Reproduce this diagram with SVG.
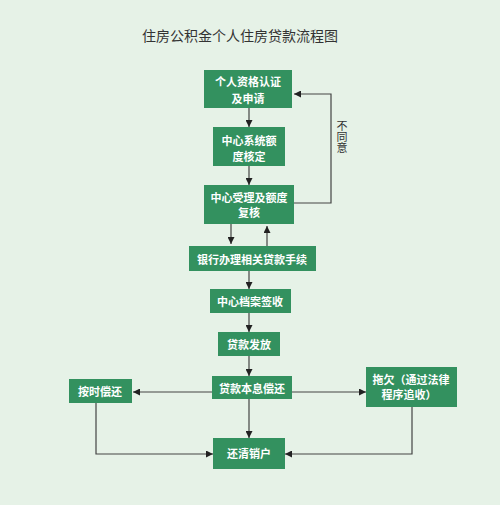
<svg xmlns="http://www.w3.org/2000/svg" width="500" height="505" viewBox="0 0 500 505">
<defs>
<marker id="ah" viewBox="0 0 10 10" refX="10" refY="5" markerWidth="7" markerHeight="7" markerUnits="userSpaceOnUse" orient="auto">
<path d="M0,0 L10,5 L0,10 z" fill="#222"/>
</marker>
</defs>
<style>
.box{fill:#33915f;}
.t{font-family:"Noto Sans CJK SC","Noto Sans",sans-serif;font-size:11px;font-weight:bold;fill:#ffffff;text-anchor:middle;dominant-baseline:central;}
.title{font-family:"Noto Sans CJK SC","Noto Sans",sans-serif;font-size:14px;fill:#333;dominant-baseline:central;}
.lbl{font-family:"Noto Sans CJK SC","Noto Sans",sans-serif;font-size:11px;fill:#333;writing-mode:vertical-rl;text-anchor:start;}
.c{fill:none;stroke:#444;stroke-width:1.2;marker-end:url(#ah);}
</style>
<rect width="500" height="505" fill="#e6f2e7"/>
<text class="title" x="142" y="35">住房公积金个人住房贷款流程图</text>
<g id="connectors">
<path class="c" d="M249,108 V127"/>
<path class="c" d="M249,166 V185"/>
<path class="c" d="M231,224 V244"/>
<path class="c" d="M267,246 V226"/>
<path class="c" d="M249,271 V289"/>
<path class="c" d="M249,313 V332"/>
<path class="c" d="M249,356 V376"/>
<path class="c" d="M212,392 H133"/>
<path class="c" d="M292,392 H366"/>
<path class="c" d="M249,399 V438"/>
<path class="c" d="M96,403 V454 H213"/>
<path class="c" d="M412,407 V454 H285"/>
<path class="c" d="M294,203 H331 V94 H294"/>
<text class="lbl" x="342" y="120">不同意</text>
</g>
<g id="n1"><rect class="box" x="204" y="70" width="88" height="38"/><text class="t" x="248" y="81">个人资格认证</text><text class="t" x="248" y="98">及申请</text></g>
<g id="n2"><rect class="box" x="213" y="127" width="72" height="39"/><text class="t" x="249" y="140">中心系统额</text><text class="t" x="249" y="156">度核定</text></g>
<g id="n3"><rect class="box" x="204" y="185" width="90" height="39"/><text class="t" x="249" y="197">中心受理及额度</text><text class="t" x="249" y="212">复核</text></g>
<g id="n4"><rect class="box" x="189" y="246" width="127" height="25"/><text class="t" x="252" y="258.5">银行办理相关贷款手续</text></g>
<g id="n5"><rect class="box" x="210" y="289" width="81" height="24"/><text class="t" x="250" y="301">中心档案签收</text></g>
<g id="n6"><rect class="box" x="218" y="332" width="62" height="24"/><text class="t" x="249" y="344">贷款发放</text></g>
<g id="n7"><rect class="box" x="212" y="376" width="80" height="23"/><text class="t" x="252" y="387.5">贷款本息偿还</text></g>
<g id="n8"><rect class="box" x="69" y="379" width="63" height="24"/><text class="t" x="100" y="391">按时偿还</text></g>
<g id="n9"><rect class="box" x="366" y="367" width="91" height="40"/><text class="t" x="411" y="379">拖欠（通过法律</text><text class="t" x="409" y="394">程序追收）</text></g>
<g id="n10"><rect class="box" x="213" y="438" width="72" height="31"/><text class="t" x="249" y="453">还清销户</text></g>
</svg>
